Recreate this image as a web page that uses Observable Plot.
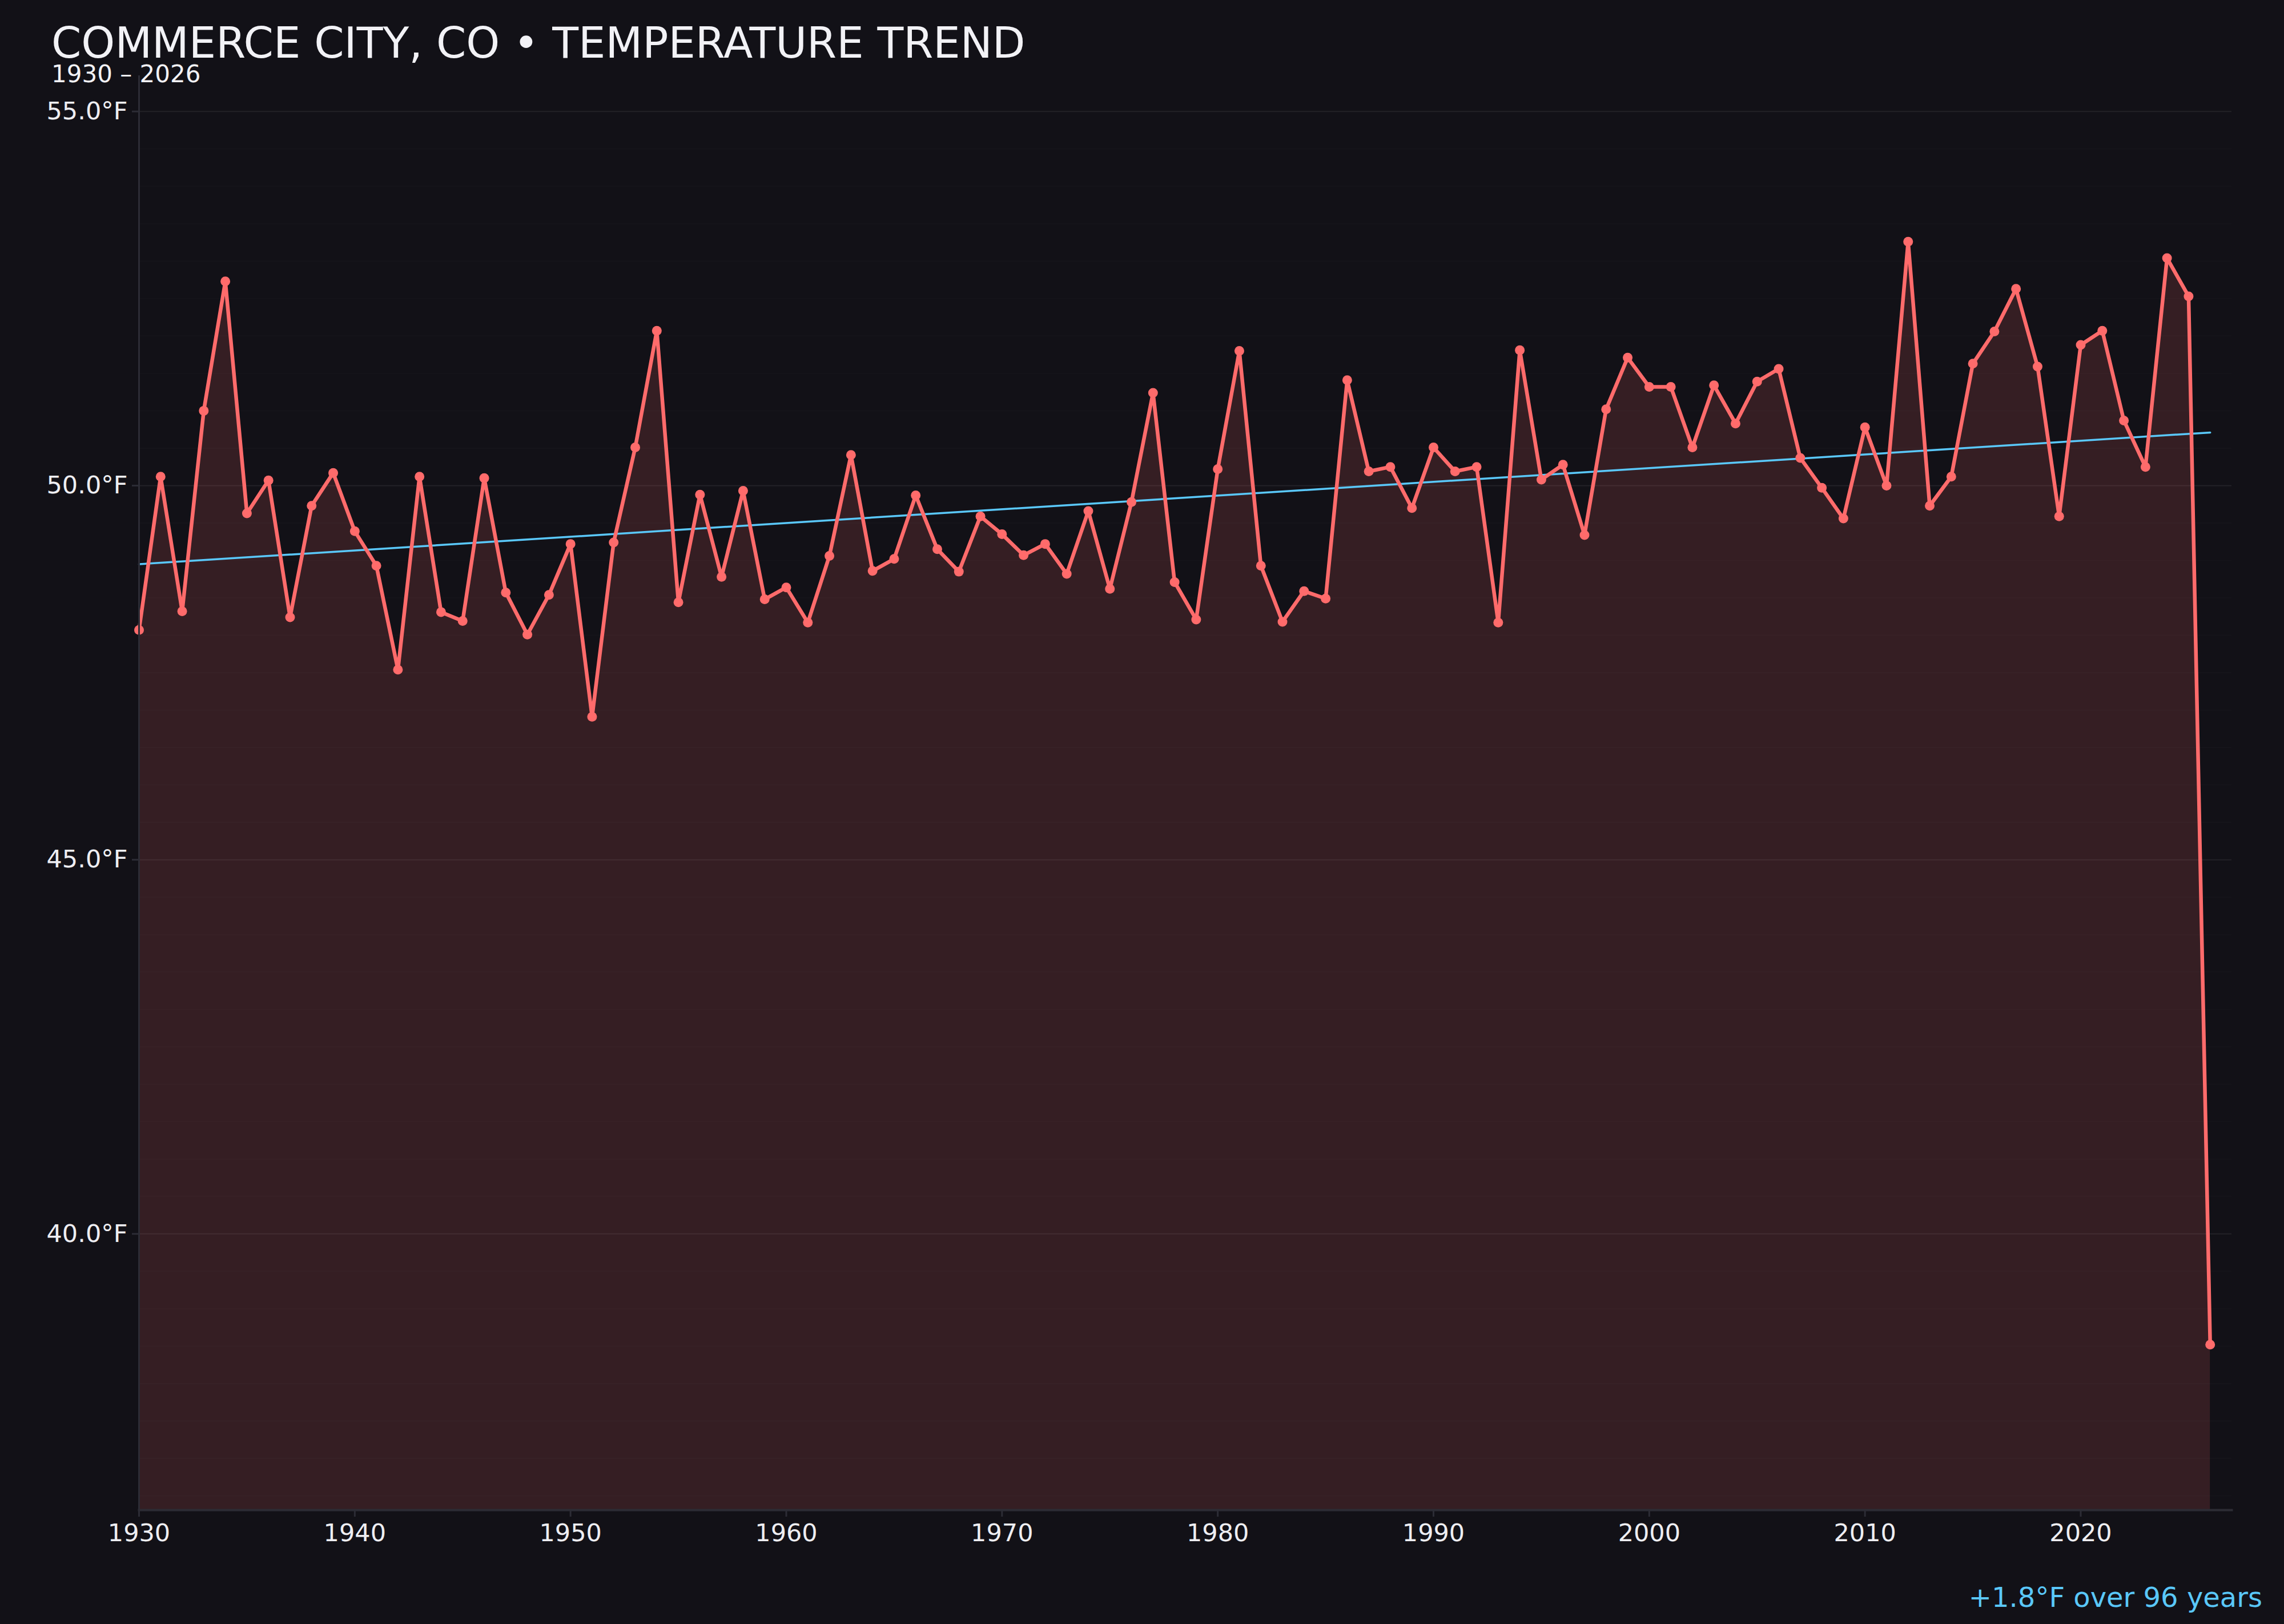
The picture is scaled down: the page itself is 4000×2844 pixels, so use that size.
<!DOCTYPE html>
<html>
<head>
<meta charset="utf-8">
<script src="https://cdn.jsdelivr.net/npm/d3@7"></script>
<script src="https://cdn.jsdelivr.net/npm/@observablehq/plot@0.6"></script>
<style>
  html, body { margin: 0; padding: 0; background: #121117; }
  #wrap { position: relative; width: 4000px; height: 2844px; background: #121117; font-family: "DejaVu Sans", sans-serif; overflow: hidden; }
  #chart { position: absolute; left: 0; top: 0; }
  .title { position: absolute; left: 90px; top: 44px; font-size: 75px; line-height: 0.85; color: #f2f2f6; white-space: nowrap; }
  .subtitle { position: absolute; left: 90px; top: 112px; font-size: 42px; line-height: 0.85; color: #f2f2f6; white-space: nowrap; }
  .caption { position: absolute; right: 38px; top: 2773px; font-size: 48px; line-height: 1; color: #5ac8fa; white-space: nowrap; }
</style>
</head>
<body>
<div id="wrap">
  <div id="chart"></div>
  <div class="title">COMMERCE CITY, CO • TEMPERATURE TREND</div>
  <div class="subtitle">1930 – 2026</div>
  <div class="caption">+1.8°F over 96 years</div>
</div>
<script>
const years = d3.range(1930, 2027);
const temps = [
  48.07, 50.12, 48.32, 51.00, 52.73, 49.63, 50.07, 48.24, 49.73, 50.17,
  49.39, 48.93, 47.54, 50.12, 48.31, 48.19, 50.10, 48.57, 48.01, 48.54,
  49.22, 46.91, 49.24, 50.51, 52.07, 48.44, 49.88, 48.78, 49.93, 48.48,
  48.64, 48.17, 49.06, 50.41, 48.86, 49.02, 49.87, 49.15, 48.85, 49.59,
  49.35, 49.07, 49.22, 48.82, 49.66, 48.62, 49.78, 51.24, 48.71, 48.21,
  50.22, 51.80, 48.93, 48.18, 48.59, 48.49, 51.41, 50.19, 50.25, 49.70,
  50.51, 50.19, 50.25, 48.17, 51.81, 50.08, 50.28, 49.34, 51.02, 51.71,
  51.32, 51.32, 50.51, 51.34, 50.83, 51.39, 51.56, 50.37, 49.97, 49.56,
  50.78, 50.00, 53.26, 49.73, 50.12, 51.63, 52.06, 52.63, 51.59, 49.59,
  51.88, 52.07, 50.87, 50.25, 53.04, 52.53, 38.52
];
const trendYears = [1930, 2026];
const trendTemps = [48.95, 50.71];
const yTicks = [40, 45, 50, 55];
const xTicks = [1930, 1940, 1950, 1960, 1970, 1980, 1990, 2000, 2010, 2020];

const data = years.map((year, i) => ({year, temp: temps[i]}));
const trend = trendYears.map((year, i) => ({year, temp: trendTemps[i]}));

const tMin = d3.min(temps), tMax = d3.max(temps);
const pad = (tMax - tMin) * 0.15;
const yLo = tMin - pad, yHi = tMax + pad;
const minorTicks = d3.range(Math.ceil(yLo * 2) / 2, yHi, 0.5).filter(v => v % 5 !== 0);

const chart = Plot.plot({
  width: 4000,
  height: 2844,
  marginLeft: 243,
  marginRight: 92,
  marginTop: 133,
  marginBottom: 200,
  style: {background: "transparent", color: "#eeeef2", fontFamily: "DejaVu Sans, sans-serif", fontSize: "43px"},
  x: {domain: [1930, 2027]},
  y: {domain: [yLo, yHi]},
  marks: [
    Plot.gridY(minorTicks, {stroke: "#ffffff", strokeOpacity: 0.015, strokeWidth: 2}),
    Plot.gridY(yTicks, {stroke: "#ffffff", strokeOpacity: 0.07, strokeWidth: 2}),
    Plot.areaY(data, {x: "year", y1: yLo, y2: "temp", fill: "#ff6b6b", fillOpacity: 0.15}),
    Plot.lineY(trend, {x: "year", y: "temp", stroke: "#5ac8fa", strokeWidth: 3.5}),
    Plot.lineY(data, {x: "year", y: "temp", stroke: "#ff6b6b", strokeWidth: 6.5}),
    Plot.dot(data, {x: "year", y: "temp", r: 8.5, fill: "#ff6b6b"}),
    Plot.frame({anchor: "left", stroke: "#2c2c35", strokeWidth: 3}),
    Plot.frame({anchor: "bottom", stroke: "#2c2c35", strokeWidth: 4}),
    Plot.axisY(yTicks, {label: null, tickSize: 12, tickPadding: 8, fontSize: 43, stroke: "#2c2c35", fill: "#eeeef2", strokeWidth: 3, tickFormat: d => d.toFixed(1) + "°F"}),
    Plot.axisX(xTicks, {label: null, tickSize: 12, tickPadding: 12, fontSize: 43, stroke: "#2c2c35", fill: "#eeeef2", strokeWidth: 3, tickFormat: d => String(d)})
  ]
});
document.getElementById("chart").appendChild(chart);
</script>
</body>
</html>
